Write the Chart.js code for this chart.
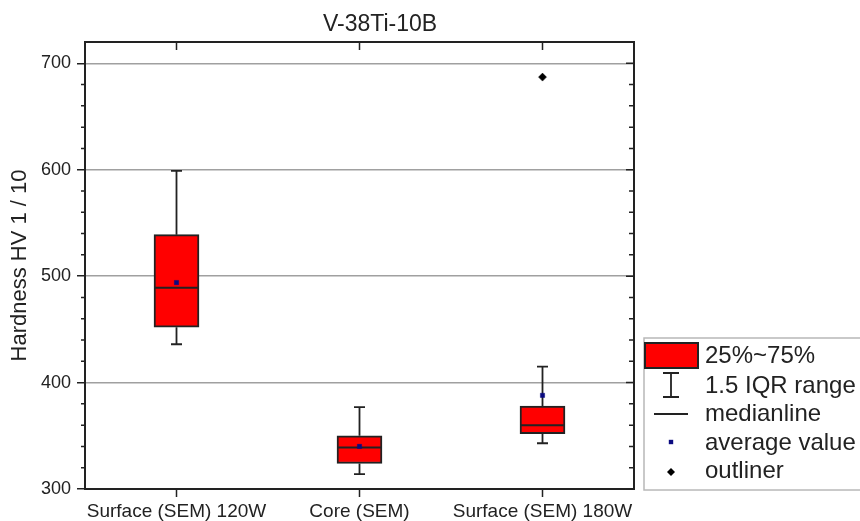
<!DOCTYPE html>
<html>
<head>
<meta charset="utf-8">
<title>V-38Ti-10B</title>
<script src="https://cdn.jsdelivr.net/npm/chart.js@4.4.0/dist/chart.umd.min.js"></script>
<style>
  html, body { margin: 0; padding: 0; background: #fff; }
  #wrap { width: 860px; height: 521px; }
</style>
</head>
<body>
<div id="wrap"><canvas id="hardnessChart" width="860" height="521"></canvas></div>
<script>
// Hardness HV 1/10 per measuring zone
const categories = ['Surface (SEM) 120W', 'Core (SEM)', 'Surface (SEM) 180W'];
const q1Values = [452, 324, 352];
const q3Values = [539, 350, 378];
const medianValues = [489, 339, 360];
const meanValues = [494, 340, 388];
const whiskerLow = [436, 314, 343];
const whiskerHigh = [599, 377, 415];
const outlierValues = [null, null, 687];

const FONT = "'Liberation Sans', Arial, Helvetica, sans-serif";
const INK = '#222';
const BOX_RED = '#ff0000';
const MEAN_BLUE = '#0a0a80';

// whiskers, caps and median lines, drawn right after the boxes
const boxExtras = {
    id: 'boxExtras',
    afterDatasetDraw(chart, args) {
        if (args.index !== 0) return;
        const ctx = chart.ctx;
        const y = chart.scales.y;
        const bars = chart.getDatasetMeta(0).data;
        ctx.save();
        ctx.strokeStyle = INK;
        bars.forEach((bar, i) => {
            const x = bar.x;
            const half = bar.width / 2;
            const cap = 5.5;
            ctx.lineWidth = 1.8;
            ctx.beginPath();
            ctx.moveTo(x, y.getPixelForValue(q3Values[i]));
            ctx.lineTo(x, y.getPixelForValue(whiskerHigh[i]));
            ctx.moveTo(x - cap, y.getPixelForValue(whiskerHigh[i]));
            ctx.lineTo(x + cap, y.getPixelForValue(whiskerHigh[i]));
            ctx.moveTo(x, y.getPixelForValue(q1Values[i]));
            ctx.lineTo(x, y.getPixelForValue(whiskerLow[i]));
            ctx.moveTo(x - cap, y.getPixelForValue(whiskerLow[i]));
            ctx.lineTo(x + cap, y.getPixelForValue(whiskerLow[i]));
            ctx.stroke();
            ctx.lineWidth = 2;
            ctx.beginPath();
            ctx.moveTo(x - half, y.getPixelForValue(medianValues[i]));
            ctx.lineTo(x + half, y.getPixelForValue(medianValues[i]));
            ctx.stroke();
        });
        ctx.restore();
    }
};

// closed frame with minor ticks; category ticks on top (inward) and bottom (outward)
const frame = {
    id: 'frame',
    afterDraw(chart) {
        const {ctx, chartArea: a} = chart;
        const y = chart.scales.y;
        const x = chart.scales.x;
        ctx.save();
        ctx.strokeStyle = INK;
        ctx.lineWidth = 2;
        ctx.beginPath();
        ctx.moveTo(a.left, a.top);
        ctx.lineTo(a.right, a.top);
        ctx.lineTo(a.right, a.bottom);
        ctx.stroke();

        ctx.lineWidth = 1.5;
        ctx.beginPath();
        for (let v = y.min; v < y.max; v += 20) {
            const py = y.getPixelForValue(v);
            const major = v % 100 === 0;
            if (!major) {
                ctx.moveTo(a.left - 4, py);
                ctx.lineTo(a.left, py);
            }
            ctx.moveTo(a.right, py);
            ctx.lineTo(a.right - (major ? 8 : 5), py);
        }
        categories.forEach((c, i) => {
            const px = x.getPixelForValue(i);
            ctx.moveTo(px, a.top);
            ctx.lineTo(px, a.top + 8);
            ctx.moveTo(px, a.bottom);
            ctx.lineTo(px, a.bottom + 8);
        });
        ctx.stroke();

        // title
        ctx.fillStyle = INK;
        ctx.font = '23px ' + FONT;
        ctx.textAlign = 'center';
        ctx.textBaseline = 'middle';
        ctx.fillText('V-38Ti-10B', 380, 25);
        ctx.restore();
    }
};

// legend box on the right
const boxLegend = {
    id: 'boxLegend',
    afterDraw(chart) {
        const ctx = chart.ctx;
        const left = 644, top = 338, bottom = 490;
        const cx = 671;
        ctx.save();
        ctx.strokeStyle = '#b8b8b8';
        ctx.lineWidth = 1.5;
        ctx.strokeRect(left, top, 300, bottom - top);

        // 25%~75%
        ctx.fillStyle = BOX_RED;
        ctx.fillRect(645, 343, 53, 25);
        ctx.strokeStyle = INK;
        ctx.lineWidth = 2;
        ctx.strokeRect(645, 343, 53, 25);

        // 1.5 IQR range
        ctx.lineWidth = 1.8;
        ctx.beginPath();
        ctx.moveTo(cx, 373); ctx.lineTo(cx, 397);
        ctx.moveTo(cx - 8, 373); ctx.lineTo(cx + 8, 373);
        ctx.moveTo(cx - 8, 397); ctx.lineTo(cx + 8, 397);
        // medianline
        ctx.moveTo(654, 414); ctx.lineTo(688, 414);
        ctx.stroke();

        // average value
        ctx.fillStyle = MEAN_BLUE;
        ctx.fillRect(cx - 2.2, 442 - 2.2, 4.4, 4.4);

        // outliner
        ctx.fillStyle = '#000';
        ctx.beginPath();
        ctx.moveTo(cx, 472 - 4); ctx.lineTo(cx + 4, 472);
        ctx.lineTo(cx, 472 + 4); ctx.lineTo(cx - 4, 472);
        ctx.closePath();
        ctx.fill();

        ctx.fillStyle = INK;
        ctx.font = '24px ' + FONT;
        ctx.textAlign = 'left';
        ctx.textBaseline = 'middle';
        const labels = ['25%~75%', '1.5 IQR range', 'medianline', 'average value', 'outliner'];
        const rows = [356, 386, 414, 443, 471];
        labels.forEach((t, i) => ctx.fillText(t, 705, rows[i]));
        ctx.restore();
    }
};

new Chart(document.getElementById('hardnessChart'), {
    type: 'bar',
    data: {
        labels: categories,
        datasets: [
            {
                label: '25%~75%',
                data: categories.map((c, i) => [q1Values[i], q3Values[i]]),
                backgroundColor: BOX_RED,
                borderColor: INK,
                borderWidth: 2,
                borderSkipped: false,
                barThickness: 45,
                order: 3
            },
            {
                type: 'line',
                label: 'average value',
                data: meanValues,
                showLine: false,
                pointStyle: 'rect',
                pointRadius: 3,
                pointBackgroundColor: MEAN_BLUE,
                pointBorderColor: MEAN_BLUE,
                pointBorderWidth: 0.5,
                order: 1
            },
            {
                type: 'line',
                label: 'outliner',
                data: outlierValues,
                showLine: false,
                pointStyle: 'rectRot',
                pointRadius: 4,
                pointBackgroundColor: '#000',
                pointBorderColor: '#000',
                pointBorderWidth: 0.5,
                order: 1
            }
        ]
    },
    options: {
        responsive: false,
        animation: false,
        devicePixelRatio: 1,
        layout: { padding: { top: 42, right: 226, left: 0, bottom: 0 } },
        plugins: {
            legend: { display: false },
            tooltip: { enabled: false },
            title: { display: false }
        },
        scales: {
            x: {
                offset: true,
                ticks: { font: { size: 19, family: FONT }, color: INK, padding: 3, maxRotation: 0, autoSkip: false },
                grid: { drawOnChartArea: false, tickLength: 8, tickColor: 'rgba(0,0,0,0)' },
                border: { color: INK, width: 2 },
                afterFit: s => { s.height = 32; }
            },
            y: {
                min: 300,
                max: 720,
                ticks: { stepSize: 100, font: { size: 18, family: FONT }, color: INK, padding: 6 },
                afterBuildTicks: s => { s.ticks = s.ticks.filter(t => t.value % 100 === 0); },
                grid: { color: '#a0a0a0', lineWidth: 1.5, tickColor: INK, tickLength: 8, tickWidth: 1.5 },
                border: { color: INK, width: 2 },
                title: {
                    display: true,
                    text: 'Hardness HV 1 / 10',
                    font: { size: 22, family: FONT },
                    color: INK,
                    padding: { top: 7, bottom: 0 }
                },
                afterFit: s => { s.width = 85; }
            }
        }
    },
    plugins: [boxExtras, frame, boxLegend]
});
</script>
</body>
</html>
